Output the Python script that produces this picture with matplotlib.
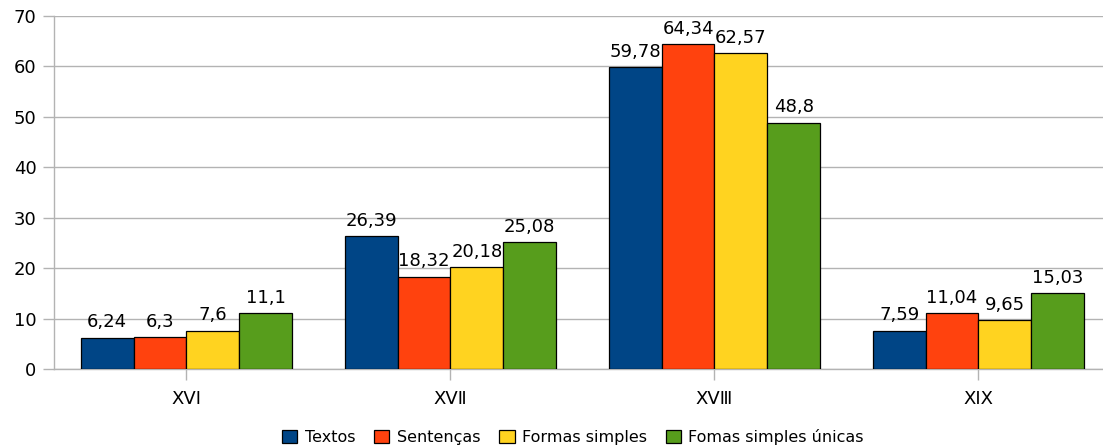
import numpy as np
import matplotlib.pyplot as plt

# century groups (roman numerals as unicode number forms)
seculos = ['XV\u2160', 'XV\u2161', 'XV\u2162', 'XIX']

textos = [6.24, 26.39, 59.78, 7.59]
sentencas = [6.3, 18.32, 64.34, 11.04]
formas_simples = [7.6, 20.18, 62.57, 9.65]
formas_unicas = [11.1, 25.08, 48.8, 15.03]

series = [
    ('Textos', textos, '#004586'),
    ('Sentenças', sentencas, '#ff420e'),
    ('Formas simples', formas_simples, '#ffd320'),
    ('Fomas simples únicas', formas_unicas, '#579d1c'),
]

plt.rcParams['font.family'] = ['DejaVu Sans']
grey = '#b3b3b3'

fig = plt.figure(figsize=(11.03, 4.48), dpi=100)
ax = fig.add_axes([0.0494, 0.1763, 0.9574, 0.7886])

x = np.arange(len(seculos))
w = 0.2
for i, (nome, vals, cor) in enumerate(series):
    bars = ax.bar(x + (i - 1.5) * w, vals, w, color=cor, edgecolor='black',
                  linewidth=0.9, label=nome, zorder=3)
    labels = [str(v).replace('.', ',') for v in vals]
    ax.bar_label(bars, labels=labels, padding=4.5, fontsize=13)

ax.set_xlim(-0.5, 3.5)
ax.set_ylim(0, 70)
ax.set_yticks(range(0, 71, 10))
ax.set_xticks(x)
ax.set_xticklabels(seculos)
ax.yaxis.grid(True, color=grey, linewidth=1)
ax.set_axisbelow(True)

for s in ['top', 'right']:
    ax.spines[s].set_visible(False)
for s in ['left', 'bottom']:
    ax.spines[s].set_color(grey)
    ax.spines[s].set_linewidth(1)

ax.tick_params(axis='both', colors=grey, labelcolor='black', labelsize=13,
               length=8, width=1)
ax.tick_params(axis='y', pad=5)
ax.tick_params(axis='x', pad=7)

fig.legend(loc='center', bbox_to_anchor=(573 / 1103, 1 - 437 / 448),
           ncol=4, frameon=False, fontsize=11.5, handlelength=0.95,
           handleheight=0.85, handletextpad=0.45, columnspacing=1.2)

fig.savefig('out.png', dpi=100)
